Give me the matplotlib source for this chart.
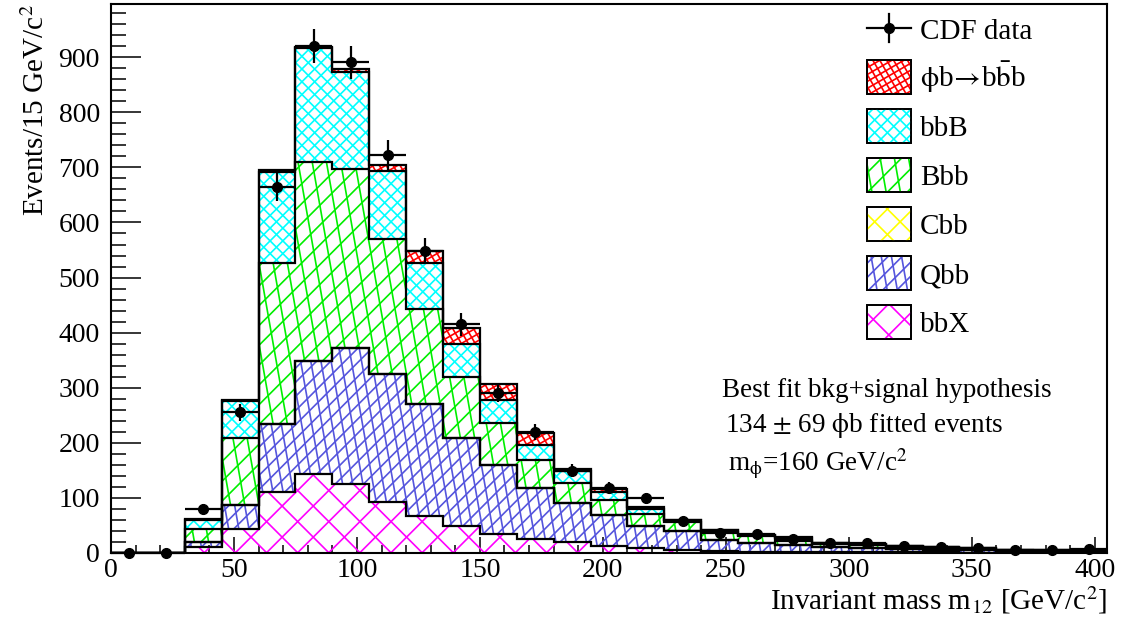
import numpy as np
import matplotlib
matplotlib.use("Agg")
import matplotlib.pyplot as plt
from matplotlib.collections import LineCollection
from matplotlib.patches import Polygon
from matplotlib.ticker import MultipleLocator

plt.rcParams["font.family"] = ["Liberation Serif", "DejaVu Serif"]
plt.rcParams["mathtext.fontset"] = "stix"

# 15 GeV bins from 0 to 405
edges = np.arange(0, 406, 15)

# per-component event counts (stack order: bottom -> top)
bbX = [0, 0, 10, 43, 111, 143, 125, 93, 67, 48, 34, 24, 19, 13, 9, 5.5, 2.5, 2, 1.5, 1, 1, 0.5, 0.5, 0.3, 0.2, 0.2, 0.2]
Qbb = [0, 0, 9, 44, 123, 205, 247, 232, 203, 160, 126, 94, 71, 56, 40, 33.5, 20.5, 16, 12.5, 10, 8, 5.5, 4.5, 3.7, 2.8, 1.8, 1.8]
Cbb = [0] * 27
Bbb = [0, 0, 24, 121, 293, 362, 326, 245, 172, 112, 76, 51, 36, 27, 21, 16, 14, 12, 8, 5, 5, 4, 3, 2, 1.5, 1.5, 1]
bbB = [0, 0, 17, 67, 165, 207, 175, 124, 85, 60, 41, 27, 23, 14, 10, 4, 3.5, 2.5, 5, 2, 2, 1.5, 2, 2, 1, 0.5, 1]
signal = [0, 0, 1, 2, 3, 2, 5, 10, 22, 29, 29, 21, 3, 5, 2.5, 1, 0.5, 0.5, 1, 0.5, 0.5, 0.5, 0, 0, 0, 0, 0]

cdf_data = [0, 0, 80, 255, 665, 921, 891, 723, 548, 415, 290, 219, 149, 117, 99, 58, 35, 34, 25, 18, 18, 12, 10, 9, 5, 5, 7]

# name, values, colour, hatch angles, hatch spacing (px)
components = [
    ("bbX", bbX, "#ff00ff", (45, 135), 22),
    ("Qbb", Qbb, "#5555dd", (45, 100), 10),
    ("Cbb", Cbb, "#ffff00", (45, 135), 18),
    ("Bbb", Bbb, "#00ee00", (45, 100), 14),
    ("bbB", bbB, "#00ffff", (45, 135), 9),
    (r"$\mathrm{\phi}$b$\!\rightarrow\!$b$\bar{\mathrm{b}}$b", signal, "#ff0000", (30, 120), 6),
]

W_PX, H_PX = 996.0, 548.7


def hatch_segments(angle, spacing):
    th = np.deg2rad(angle)
    d = np.array([np.cos(th), np.sin(th)])
    n = np.array([-np.sin(th), np.cos(th)])
    corners = np.array([[0, 0], [W_PX, 0], [0, H_PX], [W_PX, H_PX]])
    proj = corners @ n
    ks = np.arange(np.floor(proj.min() / spacing), np.ceil(proj.max() / spacing) + 1)
    L = W_PX + H_PX
    segs = []
    for k in ks:
        p0 = k * spacing * n
        a = p0 - L * d
        b = p0 + L * d
        segs.append([(a[0] / W_PX, a[1] / H_PX), (b[0] / W_PX, b[1] / H_PX)])
    return segs


def add_hatch(ax, clip_patch, color, angles, spacing, z):
    for ang in angles:
        lc = LineCollection(hatch_segments(ang, spacing), colors=color,
                            linewidths=1.2, transform=ax.transAxes, zorder=z)
        ax.add_collection(lc, autolim=False)
        lc.set_clip_path(clip_patch)


fig = plt.figure(figsize=(11.21, 6.24), dpi=100)
ax = fig.add_axes([111 / 1121, 1 - 552.7 / 624, W_PX / 1121, H_PX / 624])
ax.set_xlim(0, 405)
ax.set_ylim(0, 997)

lower = np.zeros(len(edges) - 1)
tops = []
for name, vals, color, angles, spacing in components:
    upper = lower + np.array(vals, dtype=float)
    if np.any(upper > lower):
        xs = np.repeat(edges, 2)[1:-1]
        verts = list(zip(xs, np.repeat(upper, 2))) + list(zip(xs[::-1], np.repeat(lower, 2)[::-1]))
        poly = Polygon(verts, closed=True, facecolor="white", edgecolor="none", zorder=1)
        ax.add_patch(poly)
        add_hatch(ax, poly, color, angles, spacing, 2)
    tops.append(upper)
    lower = upper

for upper in tops:
    ax.stairs(upper, edges, baseline=0, fill=False, color="black", linewidth=1.6, zorder=3)

centers = 0.5 * (edges[:-1] + edges[1:])
ax.errorbar(centers, cdf_data, yerr=np.sqrt(cdf_data), xerr=7.5, fmt="o", color="black",
            markersize=7, elinewidth=1.6, capsize=0, zorder=5, clip_on=False)

# legend drawn by hand (ROOT style, no frame)
bx0, bx1 = (867 - 111) / W_PX, (911 - 111) / W_PX
tx = (920 - 111) / W_PX
def fy(py):
    return (552.7 - py) / H_PX

y0 = fy(28)
ax.plot([bx0, bx1], [y0, y0], color="black", lw=1.6, transform=ax.transAxes, zorder=6)
ax.plot([(bx0 + bx1) / 2] * 2, [fy(14), fy(42)], color="black", lw=1.6, transform=ax.transAxes, zorder=6)
ax.plot([(bx0 + bx1) / 2], [y0], "o", color="black", ms=7, transform=ax.transAxes, zorder=6)
ax.text(tx, fy(39), "CDF data", fontsize=21, transform=ax.transAxes, va="baseline", ha="left")

for i, (name, vals, color, angles, spacing) in enumerate(components[::-1]):
    cy = 77 + 49 * i
    verts = [(bx0, fy(cy + 17)), (bx1, fy(cy + 17)), (bx1, fy(cy - 17)), (bx0, fy(cy - 17))]
    box = Polygon(verts, closed=True, transform=ax.transAxes, facecolor="white",
                  edgecolor="black", lw=1.3, zorder=6)
    ax.add_patch(box)
    add_hatch(ax, box, color, angles, spacing, 7)
    edge = Polygon(verts, closed=True, transform=ax.transAxes, facecolor="none",
                   edgecolor="black", lw=1.3, zorder=8)
    ax.add_patch(edge)
    ax.text(tx, fy(cy + 10), name, fontsize=21, transform=ax.transAxes, va="baseline", ha="left")

ax.text(248.6, 283.6, "Best fit bkg+signal hypothesis", fontsize=19.5, va="baseline")
ax.text(249.7, 220, r"134 $\pm$ 69 $\mathrm{\phi}$b fitted events", fontsize=19.5, va="baseline")
ax.text(250.7, 147, r"m$_{\mathrm{\phi}}$=160 GeV/c$^{2}$", fontsize=19.5, va="baseline")

ax.xaxis.set_major_locator(MultipleLocator(50))
ax.xaxis.set_minor_locator(MultipleLocator(10))
ax.yaxis.set_major_locator(MultipleLocator(100))
ax.yaxis.set_minor_locator(MultipleLocator(20))
ax.tick_params(axis="both", which="both", direction="in", top=False, right=False, labelsize=20)
ax.tick_params(axis="y", which="major", length=21.6, width=1.1, pad=8)
ax.tick_params(axis="y", which="minor", length=10.8, width=1.1)
ax.tick_params(axis="x", which="major", length=11.5, width=1.1, pad=4)
ax.tick_params(axis="x", which="minor", length=5.8, width=1.1)
for s in ax.spines.values():
    s.set_linewidth(1.5)

ax.set_xlabel(r"Invariant mass m$_{12}$ [GeV/c$^{2}$]", fontsize=21, loc="right", labelpad=1)
ax.set_ylabel(r"Events/15 GeV/c$^{2}$", fontsize=21, loc="top", labelpad=6)

fig.savefig("out.png", dpi=100)
